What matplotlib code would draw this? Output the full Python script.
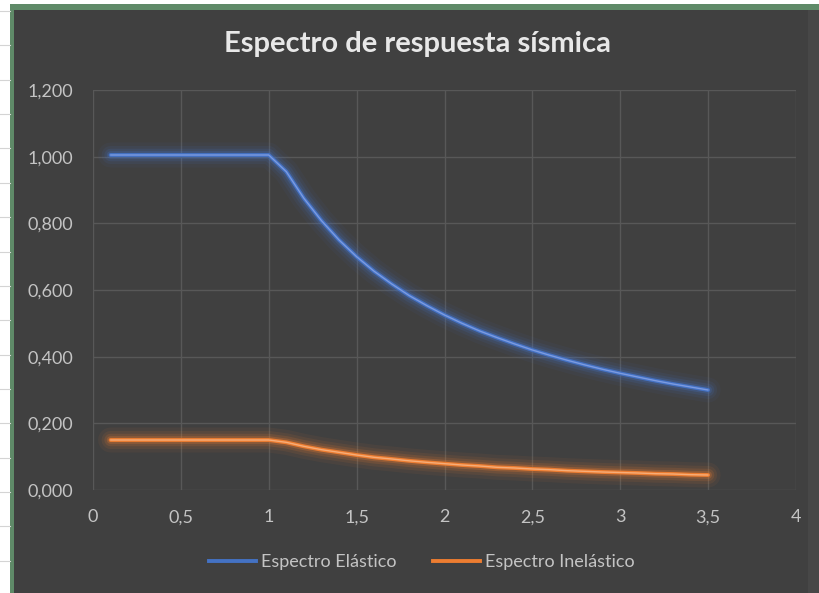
import matplotlib
matplotlib.use("Agg")
import matplotlib.pyplot as plt
from matplotlib.patches import Rectangle
from matplotlib.lines import Line2D

# Period values (s)
periodo = [0.1, 0.2, 0.3, 0.4, 0.5, 0.6, 0.7, 0.8, 0.9, 1.0,
           1.1, 1.2, 1.3, 1.4, 1.5, 1.6, 1.7, 1.8, 1.9, 2.0,
           2.1, 2.2, 2.3, 2.4, 2.5, 2.6, 2.7, 2.8, 2.9, 3.0,
           3.1, 3.2, 3.3, 3.4, 3.5]

# Spectral acceleration, elastic spectrum
elastico = [1.005, 1.005, 1.005, 1.005, 1.005, 1.005, 1.005, 1.005, 1.005, 1.005,
            0.955, 0.875, 0.808, 0.750, 0.700, 0.656, 0.618, 0.583, 0.553, 0.525,
            0.500, 0.477, 0.457, 0.438, 0.420, 0.404, 0.389, 0.375, 0.362, 0.350,
            0.339, 0.328, 0.318, 0.309, 0.300]

# Spectral acceleration, inelastic spectrum
inelastico = [0.150, 0.150, 0.150, 0.150, 0.150, 0.150, 0.150, 0.150, 0.150, 0.150,
              0.143, 0.131, 0.121, 0.113, 0.105, 0.098, 0.093, 0.0875, 0.083, 0.079,
              0.075, 0.072, 0.068, 0.066, 0.063, 0.061, 0.058, 0.056, 0.054, 0.0525,
              0.051, 0.049, 0.048, 0.046, 0.045]

x_ticks = [0, 0.5, 1, 1.5, 2, 2.5, 3, 3.5, 4]
x_labels = ["0", "0,5", "1", "1,5", "2", "2,5", "3", "3,5", "4"]
y_ticks = [0, 0.2, 0.4, 0.6, 0.8, 1.0, 1.2]
y_labels = ["0,000", "0,200", "0,400", "0,600", "0,800", "1,000", "1,200"]

titulo = "Espectro de respuesta sísmica"
series = [("Espectro Elástico", elastico, "#4472C4", "#7C9BE0"),
          ("Espectro Inelástico", inelastico, "#ED7D31", "#F6AD78")]

W, H = 819, 593
BG = "#404040"
GRID = "#585858"
TXT = "#C4C4C4"
plt.rcParams["font.family"] = ["Lato", "DejaVu Sans"]

fig = plt.figure(figsize=(W / 100, H / 100), dpi=100, facecolor="white")

# sheet strip on the left and the chart frame
for yy in [11, 45, 80, 114, 148, 183, 217, 252, 286, 320, 355, 389, 423, 458, 492, 526, 561]:
    fig.add_artist(Line2D([0, 10 / W], [1 - yy / H, 1 - yy / H], color="#D4D4D4", lw=0.8,
                          transform=fig.transFigure))
fig.add_artist(Rectangle((10 / W, 0), 1 - 10 / W, 1 - 4 / H, transform=fig.transFigure,
                         facecolor="#5F8A68", edgecolor="none", zorder=0))
fig.add_artist(Rectangle((14 / W, 0), 1 - 14 / W, 1 - 10 / H, transform=fig.transFigure,
                         facecolor=BG, edgecolor="none", zorder=0))
fig.add_artist(Rectangle((808 / W, 0), 11 / W, 1 - 10 / H, transform=fig.transFigure,
                         facecolor="#474747", edgecolor="none", zorder=0))

ax = fig.add_axes([93 / W, 103 / H, 703 / W, 400 / H])
ax.set_facecolor(BG)
ax.patch.set_alpha(0)

for name, vals, col, core in series:
    for lw, a in [(18, 0.06), (13, 0.09), (9, 0.14), (5.5, 0.25)]:
        ax.plot(periodo, vals, color=col, lw=lw, alpha=a, solid_capstyle="round", zorder=3)
    ax.plot(periodo, vals, color=col, lw=2.8, zorder=4, solid_capstyle="round")
    ax.plot(periodo, vals, color=core, lw=1.0, zorder=5, solid_capstyle="round")

ax.set_xlim(0, 4)
ax.set_ylim(0, 1.2)
ax.set_xticks(x_ticks)
ax.set_xticklabels(x_labels)
ax.set_yticks(y_ticks)
ax.set_yticklabels(y_labels)
ax.grid(True, color=GRID, lw=1.0)
ax.set_axisbelow(True)
for s in ax.spines.values():
    s.set_visible(False)
ax.tick_params(axis="both", length=0, labelcolor=TXT, labelsize=13)
ax.tick_params(axis="x", pad=14)
ax.tick_params(axis="y", pad=14)

fig.text(417 / W, 1 - 44 / H, titulo, ha="center", va="center", color="#E8E8E8",
         fontsize=21, fontweight="bold")

handles = [Line2D([], [], color=c, lw=2.8) for _, _, c, _ in series]
leg = fig.legend(handles, [s[0] for s in series], loc="center", ncol=2,
                 bbox_to_anchor=(422 / W, 1 - 562 / H), frameon=False,
                 fontsize=13, labelcolor=TXT, handlelength=2.6, handletextpad=0.3,
                 columnspacing=2.0)

fig.savefig("out.png", dpi=100, facecolor=fig.get_facecolor())
